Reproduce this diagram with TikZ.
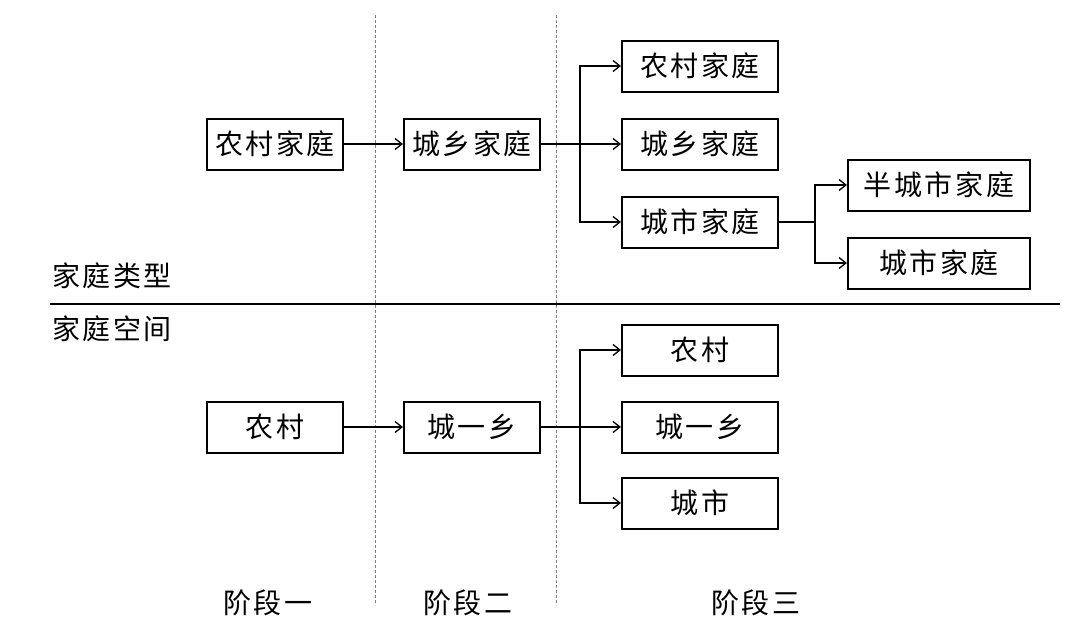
\documentclass[tikz,border=0pt]{standalone}
\usepackage{fontspec}
\newfontfamily\cjk[LetterSpace=9]{Noto Sans CJK SC}
\usetikzlibrary{arrows.meta}
\begin{document}
\begin{tikzpicture}[x=1pt,y=-1pt,
 box/.style={draw, line width=2pt, inner sep=0pt, font=\cjk\fontsize{28}{30}\selectfont, minimum height=51pt},
 wA/.style={minimum width=136pt}, wB/.style={minimum width=156pt}, wC/.style={minimum width=182pt},
 conn/.style={line width=1.3pt},
 arr/.style={conn, -{Straight Barb[length=7pt, width=11pt, line width=1.3pt]}},
 lbl/.style={font=\cjk\fontsize{28}{30}\selectfont, inner sep=0pt},
 sep/.style={gray, line width=0.8pt, dash pattern=on 3pt off 2pt}]
\useasboundingbox (0,0) rectangle (1080,637);
% separators
\draw[sep] (375,15) -- (375,605);
\draw[sep] (556,15) -- (556,605);
\draw[line width=2.6pt] (50,304) -- (1060,304);
\node[lbl] (t1) at (112,276) {家庭类型};
\node[lbl] (t2) at (112,329) {家庭空间};
% top
\node[box,wA] (a1) at (275,144) {农村家庭};
\node[box,wA] (a2) at (472,144) {城乡家庭};
\node[box,wB] (a3) at (700,66) {农村家庭};
\node[box,wB] (a4) at (700,144) {城乡家庭};
\node[box,wB] (a5) at (700,222) {城市家庭};
\node[box,wC] (a6) at (939,185) {半城市家庭};
\node[box,wC] (a7) at (939,263) {城市家庭};
\coordinate (fa) at (580,144);
\coordinate (fb) at (815,222);
\draw[arr] (a1.east) -- (a2.west);
\draw[conn] (a2.east) -- (fa);
\draw[arr] (fa) |- (a3.west);
\draw[arr] (fa) -- (a4.west);
\draw[arr] (fa) |- (a5.west);
\draw[conn] (a5.east) -- (fb);
\draw[arr] (fb) |- (a6.west);
\draw[arr] (fb) |- (a7.west);
% bottom
\node[box,wA] (b1) at (275,427) {农村};
\node[box,wA] (b2) at (472,427) {城一乡};
\node[box,wB] (b3) at (700,350) {农村};
\node[box,wB] (b4) at (700,427) {城一乡};
\node[box,wB] (b5) at (700,503) {城市};
\coordinate (fc) at (580,427);
\draw[arr] (b1.east) -- (b2.west);
\draw[conn] (b2.east) -- (fc);
\draw[arr] (fc) |- (b3.west);
\draw[arr] (fc) -- (b4.west);
\draw[arr] (fc) |- (b5.west);
% stages
\node[lbl] (s1) at (268,603) {阶段一};
\node[lbl] (s2) at (468,603) {阶段二};
\node[lbl] (s3) at (756,603) {阶段三};
\end{tikzpicture}
\end{document}
